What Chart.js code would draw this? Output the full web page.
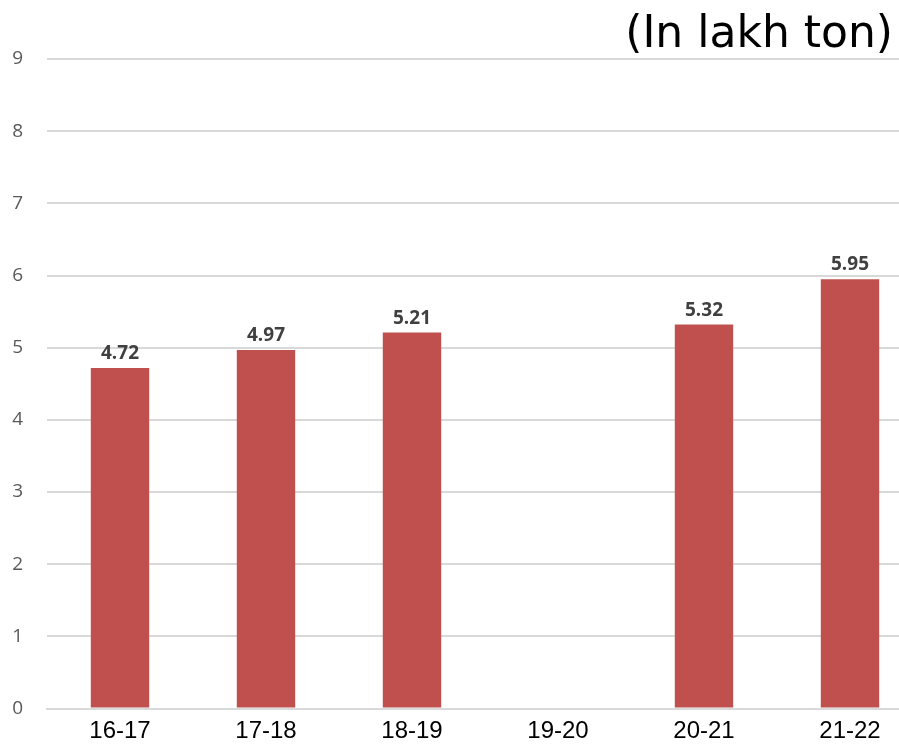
<!DOCTYPE html>
<html>
<head>
<meta charset="utf-8">
<script src="https://cdn.jsdelivr.net/npm/chart.js@4.4.1/dist/chart.umd.min.js"></script>
<style>
  html, body { margin: 0; padding: 0; background: #ffffff; overflow: hidden; }
  #wrap { position: relative; width: 925px; height: 744px; }
</style>
</head>
<body>
<div id="wrap"><canvas id="c"></canvas></div>
<script>
// Production by year (in lakh ton); 19-20 has no figure
const years = ['16-17', '17-18', '18-19', '19-20', '20-21', '21-22'];
const production = [4.72, 4.97, 5.21, null, 5.32, 5.95];
const yTicks = [0, 1, 2, 3, 4, 5, 6, 7, 8, 9];
const unitLabel = '(In lakh ton)';

// Bold value printed just above each bar
const valueLabels = {
  id: 'valueLabels',
  afterDatasetsDraw(chart) {
    const { ctx } = chart;
    const meta = chart.getDatasetMeta(0);
    ctx.save();
    ctx.font = 'bold 19px "Open Sans", "DejaVu Sans", sans-serif';
    ctx.fillStyle = '#404040';
    ctx.textAlign = 'center';
    ctx.textBaseline = 'alphabetic';
    meta.data.forEach((bar, i) => {
      const v = production[i];
      if (v === null) return;
      ctx.fillText(v.toFixed(2), bar.x, bar.y - 9);
    });
    ctx.restore();
  }
};

// Unit caption in the top-right corner
const unitCaption = {
  id: 'unitCaption',
  afterDraw(chart) {
    const { ctx } = chart;
    ctx.save();
    ctx.font = '44px "DejaVu Sans", sans-serif';
    ctx.fillStyle = '#000000';
    ctx.textAlign = 'right';
    ctx.textBaseline = 'alphabetic';
    ctx.fillText(unitLabel, 893, 47);
    ctx.restore();
  }
};

new Chart(document.getElementById('c'), {
  type: 'bar',
  data: {
    labels: years,
    datasets: [{
      data: production,
      backgroundColor: '#c0504d',
      borderWidth: 0,
      barPercentage: 0.4,
      categoryPercentage: 1.0
    }]
  },
  options: {
    responsive: true,
    maintainAspectRatio: false,
    animation: false,
    layout: { autoPadding: false, padding: { top: 59, left: 0, right: 2, bottom: 0 } },
    plugins: {
      legend: { display: false },
      tooltip: { enabled: false },
      title: { display: false }
    },
    scales: {
      x: {
        afterFit(axis) { axis.height = 30; },
        grid: { display: false, drawTicks: false },
        border: { display: true, color: '#d9d9d9', width: 2 },
        ticks: {
          color: '#000000',
          font: { family: '"Liberation Sans", Arial, sans-serif', size: 24 },
          padding: 8
        }
      },
      y: {
        min: 0,
        max: 9,
        afterFit(axis) { axis.width = 47; },
        afterBuildTicks(axis) { axis.ticks = yTicks.map(v => ({ value: v })); },
        grid: { color: '#d9d9d9', lineWidth: 2, drawTicks: false },
        border: { display: false },
        ticks: {
          color: '#595959',
          font: { family: '"Open Sans", "DejaVu Sans", sans-serif', size: 19 },
          padding: 24
        }
      }
    }
  },
  plugins: [valueLabels, unitCaption]
});
</script>
</body>
</html>
